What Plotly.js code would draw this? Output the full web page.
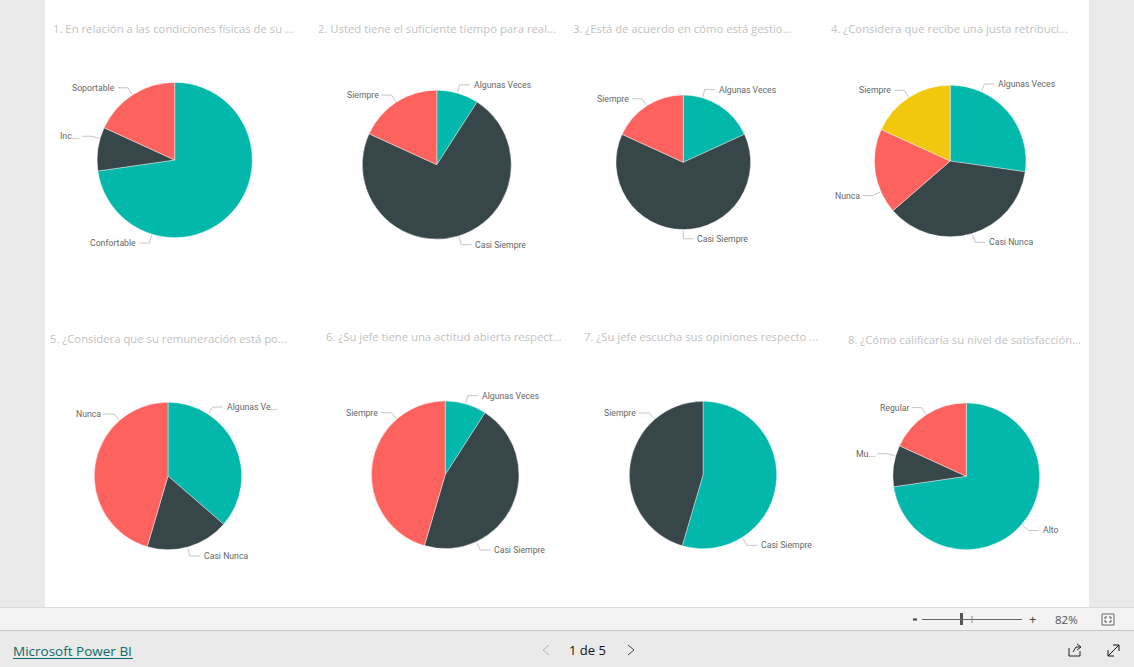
<!DOCTYPE html>
<html>
<head>
<meta charset="utf-8">
<script src="https://cdn.plot.ly/plotly-3.0.1.min.js"></script>
<style>html,body{margin:0;padding:0;background:#eaeaea;overflow:hidden}#c{width:1134px;height:667px}</style>
</head>
<body>
<div id="c"></div>
<script>
const W = 1134, H = 667;
const TEAL = '#01B8AA', DARK = '#374649', RED = '#FD625E', YELLOW = '#F2C80F';

const titles = [
  '1. En relación a las condiciones físicas de su ...',
  '2. Usted tiene el suficiente tiempo para real...',
  '3. ¿Está de acuerdo en cómo está gestio...',
  '4. ¿Considera que recibe una justa retribuci...',
  '5. ¿Considera que su remuneración está po...',
  '6. ¿Su jefe tiene una actitud abierta respect...',
  '7. ¿Su jefe escucha sus opiniones respecto ...',
  '8. ¿Cómo calificaría su nivel de satisfacción...'
];
const titleX = [51.5, 316.5, 571.5, 829.5, 48.5, 324.5, 582.5, 846.5];
const titleY = [29, 29, 29, 29, 338, 336, 336, 339];

const labels1 = ['Confortable', 'Inc...', 'Soportable'];
const values1 = [8, 1, 2];
const labels2 = ['Algunas Veces', 'Casi Siempre', 'Siempre'];
const values2 = [1, 8, 2];
const labels3 = ['Algunas Veces', 'Casi Siempre', 'Siempre'];
const values3 = [2, 7, 2];
const labels4 = ['Algunas Veces', 'Casi Nunca', 'Nunca', 'Siempre'];
const values4 = [3, 4, 2, 2];
const labels5 = ['Algunas Ve...', 'Casi Nunca', 'Nunca'];
const values5 = [4, 2, 5];
const labels6 = ['Algunas Veces', 'Casi Siempre', 'Siempre'];
const values6 = [1, 5, 5];
const labels7 = ['Casi Siempre', 'Siempre'];
const values7 = [6, 5];
const labels8 = ['Alto', 'Mu...', 'Regular'];
const values8 = [8, 1, 2];

const sliceColors = [
  [TEAL, DARK, RED], [TEAL, DARK, RED], [TEAL, DARK, RED], [TEAL, DARK, RED, YELLOW],
  [TEAL, DARK, RED], [TEAL, DARK, RED], [TEAL, DARK], [TEAL, DARK, RED]
];
const pieCx = [174.7, 436.8, 683.3, 950.2, 168, 445.2, 703, 966.3];
const pieCy = [160, 164.7, 162.3, 161, 476, 474.8, 475, 476.3];
const pieR = [77.6, 74.5, 67.3, 75.8, 73.7, 73.8, 73.7, 73.4];
/* where each leader line touches the rim, degrees clockwise from the top */
const leaderAngles = [
  [197, 286, 327], [16, 163, 327], [16.5, 180, 327], [24, 163, 246, 327],
  [33, 164.7, 319], [16, 155, 319], [148, 319], [131, 286, 327]
];

const allLabels = [labels1, labels2, labels3, labels4, labels5, labels6, labels7, labels8];
const allValues = [values1, values2, values3, values4, values5, values6, values7, values8];

const fx = x => x / W, fy = y => 1 - y / H;
const UI = '"Open Sans", sans-serif';
const shapes = [], annotations = [];

function rect(x0, y0, x1, y1, fill, lineColor) {
  shapes.push({type: 'rect', xref: 'paper', yref: 'paper', x0: fx(x0), x1: fx(x1), y0: fy(y1), y1: fy(y0),
    fillcolor: fill, line: {width: lineColor ? 1 : 0, color: lineColor || fill}, layer: 'below'});
}
function poly(points, color, width) {
  const d = points.map((p, i) => (i ? 'L ' : 'M ') + fx(p[0]) + ' ' + fy(p[1])).join(' ');
  shapes.push({type: 'path', xref: 'paper', yref: 'paper', path: d, line: {color: color, width: width || 1}});
}
function text(x, y, s, size, color, anchor, family, weight) {
  annotations.push({xref: 'paper', yref: 'paper', x: fx(x), y: fy(y), text: s, showarrow: false,
    xanchor: anchor || 'left', yanchor: 'middle', borderpad: 0,
    font: {size: size, color: color, family: family || UI, weight: weight || 400}});
}

/* page furniture */
rect(0, 0, W, H, '#eaeaea');
rect(45, 0, 1089, 607, '#ffffff');
rect(0, 607, W, 630, '#f3f3f3');
rect(0, 630, W, H, '#eaeaea');
poly([[0, 607.5], [W, 607.5]], '#dcdcdc');
poly([[0, 630.5], [W, 630.5]], '#c8c8c8');

/* zoom bar */
poly([[913, 619.5], [917, 619.5]], '#444', 2);
poly([[922, 619.5], [1022, 619.5]], '#666', 1);
poly([[972, 616], [972, 623]], '#888', 1);
rect(960, 613, 963, 625, '#555');
text(1032, 618.5, '+', 13, '#444', 'center');
text(1066.5, 619, '82%', 11.5, '#555', 'center');
/* fit-to-page icon: box with corner brackets */
rect(1102, 614, 1114, 625, 'rgba(0,0,0,0)', '#666');
poly([[1105, 619], [1105, 617], [1107, 617]], '#555');
poly([[1109, 617], [1111, 617], [1111, 619]], '#555');
poly([[1105, 620], [1105, 622], [1107, 622]], '#555');
poly([[1111, 620], [1111, 622], [1109, 622]], '#555');

/* footer */
text(12, 651, 'Microsoft Power BI', 13.5, '#0b6a6e', 'left', UI, 500);
poly([[13, 658.5], [133, 658.5]], '#0b6a6e', 1);
text(587.5, 650, '1 de 5', 13, '#111', 'center', UI, 500);
poly([[549, 645], [543, 650], [549, 655]], '#b5b5b5', 1);
poly([[628, 645], [634, 650], [628, 655]], '#444', 1);
poly([[1069, 648], [1069, 656], [1080, 656], [1080, 651]], '#222', 1);
poly([[1073, 652], [1076, 647], [1080, 647]], '#222', 1);
poly([[1077, 644], [1081, 647], [1077, 650]], '#222', 1);
poly([[1108, 656], [1119, 645]], '#111', 1);
poly([[1113, 645], [1119, 645], [1119, 651]], '#111', 1);
poly([[1108, 650], [1108, 656], [1114, 656]], '#111', 1);

const traces = allValues.map((vals, i) => {
  const cx = pieCx[i], cy = pieCy[i], r = pieR[i];
  return {
    type: 'pie', labels: allLabels[i], values: vals, sort: false, direction: 'clockwise', rotation: 0,
    textinfo: 'none', hoverinfo: 'label+percent', showlegend: false,
    marker: {colors: sliceColors[i], line: {color: '#ffffff', width: 0.4}},
    domain: {x: [fx(cx - r), fx(cx + r)], y: [fy(cy + r), fy(cy - r)]}
  };
});

allLabels.forEach((labs, i) => {
  const cx = pieCx[i], cy = pieCy[i], r = pieR[i];
  labs.forEach((lab, j) => {
    const deg = leaderAngles[i][j];
    const a = deg * Math.PI / 180;
    const sx = Math.sin(a), sy = -Math.cos(a);
    const right = deg <= 180;
    const reach = (deg > 90 && deg < 270) ? 9.2 : 8.5;
    const rim = [cx + sx * (r + 1), cy + sy * (r + 1)];
    const elbow = [cx + sx * (r + reach), cy + sy * (r + reach)];
    const end = [elbow[0] + (right ? 10 : -10), elbow[1]];
    poly([rim, elbow, end], '#c4c4c4', 1);
    text(end[0] + (right ? 3 : -2), elbow[1], lab, 8.7, '#666666', right ? 'left' : 'right', 'Roboto, sans-serif');
  });
  text(titleX[i], titleY[i], titles[i], 11.3, '#c2c2c2', 'left');
});

Plotly.newPlot('c', traces, {
  width: W, height: H, margin: {l: 0, r: 0, t: 0, b: 0, pad: 0},
  paper_bgcolor: '#eaeaea', plot_bgcolor: 'rgba(0,0,0,0)',
  showlegend: false, shapes: shapes, annotations: annotations
}, {displayModeBar: false, staticPlot: true, responsive: false});
</script>
</body>
</html>
